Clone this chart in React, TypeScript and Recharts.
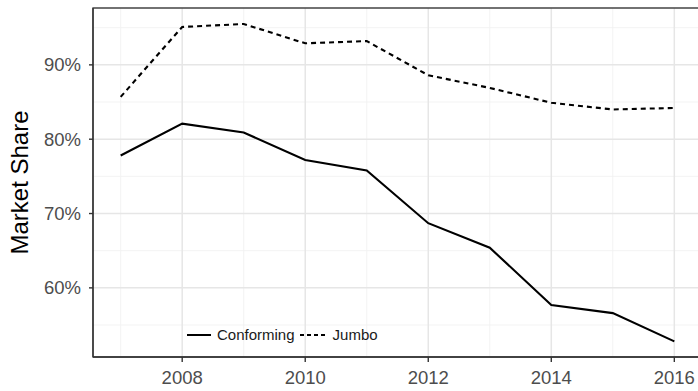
import { LineChart, Line, XAxis, YAxis, CartesianGrid, Legend, ReferenceArea } from "recharts";

const years = [2007, 2008, 2009, 2010, 2011, 2012, 2013, 2014, 2015, 2016];
const conforming = [77.8, 82.1, 80.9, 77.2, 75.8, 68.7, 65.4, 57.7, 56.6, 52.8];
const jumbo = [85.7, 95.1, 95.5, 92.9, 93.2, 88.6, 86.9, 84.9, 84.0, 84.2];

const xTicks = [2008, 2010, 2012, 2014, 2016];
const xMinor = [2007, 2009, 2011, 2013, 2015];
const yTicks = [60, 70, 80, 90];
const yMinor = [55, 65, 75, 85, 95];

const X_DOMAIN: [number, number] = [2006.55, 2016.45];
const Y_DOMAIN: [number, number] = [50.7, 97.65];

const FONT = "'Liberation Sans', Arial, Helvetica, sans-serif";

const series = [
  { key: "conforming", name: "Conforming", dash: undefined as string | undefined },
  { key: "jumbo", name: "Jumbo", dash: "5 4" },
];

const data = years.map((year, i) => ({
  year,
  conforming: conforming[i],
  jumbo: jumbo[i],
}));

function LegendBox() {
  return (
    <div style={{ display: "flex", alignItems: "center", fontFamily: FONT, fontSize: 15, color: "#1a1a1a" }}>
      <svg width={24} height={10} style={{ marginRight: 6 }}>
        <line x1={0} y1={5} x2={24} y2={5} stroke="#000" strokeWidth={2} />
      </svg>
      <span style={{ marginRight: 4 }}>Conforming</span>
      <svg width={28} height={10} style={{ marginRight: 6 }}>
        <line x1={1} y1={5} x2={28} y2={5} stroke="#000" strokeWidth={2} strokeDasharray="4 3" />
      </svg>
      <span>Jumbo</span>
    </div>
  );
}

export default function App() {
  return (
    <div style={{ position: "fixed", left: 0, top: 0, width: 698, height: 391, overflow: "hidden", background: "#fff" }}>
      <LineChart width={702} height={391} data={data} margin={{ top: 8, right: 0, bottom: 0, left: 0 }}>
        <CartesianGrid stroke="#f2f2f2" strokeWidth={0.9} horizontalValues={yMinor} verticalValues={xMinor} />
        <CartesianGrid stroke="#e6e6e6" strokeWidth={1.5} horizontalValues={yTicks} verticalValues={xTicks} />
        <XAxis
          dataKey="year"
          type="number"
          domain={X_DOMAIN}
          ticks={xTicks}
          allowDataOverflow
          height={34}
          tickSize={5}
          tickMargin={9}
          axisLine={{ stroke: "#333", strokeWidth: 1.4 }}
          tickLine={{ stroke: "#333", strokeWidth: 1.4 }}
          tick={{ fill: "#4d4d4d", fontSize: 18.5, fontFamily: FONT }}
        />
        <YAxis
          type="number"
          domain={Y_DOMAIN}
          ticks={yTicks}
          allowDataOverflow
          width={93}
          tickSize={4}
          tickMargin={8}
          tickFormatter={(v) => `${v}%`}
          axisLine={{ stroke: "#333", strokeWidth: 1.4 }}
          tickLine={{ stroke: "#333", strokeWidth: 1.4 }}
          tick={{ fill: "#4d4d4d", fontSize: 18.5, fontFamily: FONT }}
          label={({ viewBox }: any) => {
            const cy = viewBox.y + viewBox.height / 2;
            return (
              <text
                x={19}
                y={cy}
                transform={`rotate(-90 19 ${cy})`}
                textAnchor="middle"
                dominantBaseline="central"
                fill="#000"
                fontSize={24}
                fontFamily={FONT}
              >
                Market Share
              </text>
            );
          }}
        />
        <ReferenceArea
          x1={X_DOMAIN[0]}
          x2={X_DOMAIN[1]}
          y1={Y_DOMAIN[0]}
          y2={Y_DOMAIN[1]}
          fill="none"
          stroke="#444"
          strokeWidth={1.3}
        />
        {series.map((s) => (
          <Line
            key={s.key}
            type="linear"
            dataKey={s.key}
            name={s.name}
            stroke="#000"
            strokeWidth={2.1}
            strokeDasharray={s.dash}
            dot={false}
            activeDot={false}
            isAnimationActive={false}
          />
        ))}
        <Legend
          layout="horizontal"
          verticalAlign="middle"
          align="center"
          wrapperStyle={{ left: 187, top: 326, width: "auto" }}
          content={() => <LegendBox />}
        />
      </LineChart>
    </div>
  );
}
